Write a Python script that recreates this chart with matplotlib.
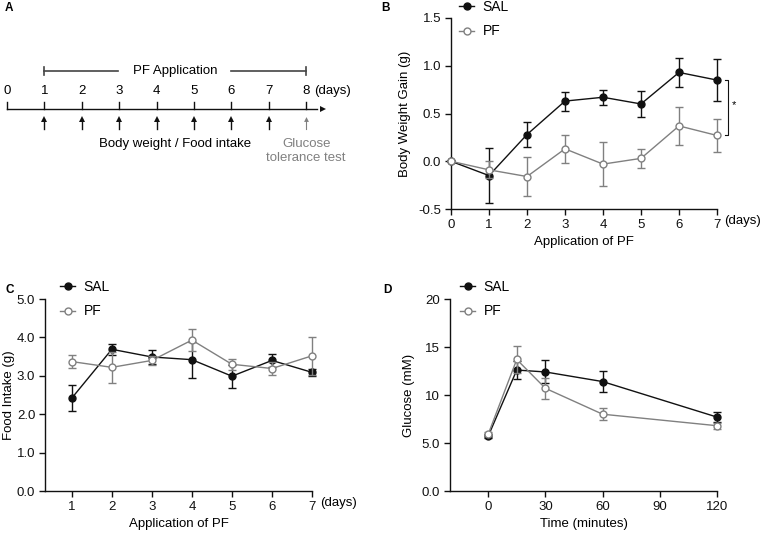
import matplotlib
matplotlib.use('Agg')
import matplotlib.pyplot as plt
from matplotlib.lines import Line2D

plt.rcParams['font.family'] = ['Liberation Sans', 'DejaVu Sans']
plt.rcParams['font.size'] = 9

BLACK = '#111111'
GRAY = '#808080'

# panel A timeline
timeline_days = [0, 1, 2, 3, 4, 5, 6, 7, 8]
arrow_days = [1, 2, 3, 4, 5, 6, 7]
glucose_day = 8

# panel B body weight gain
bw_days = [0, 1, 2, 3, 4, 5, 6, 7]
bw_sal = [0.0, -0.15, 0.28, 0.63, 0.67, 0.60, 0.93, 0.85]
bw_sal_err = [0.0, 0.29, 0.13, 0.10, 0.08, 0.14, 0.15, 0.22]
bw_pf = [0.0, -0.09, -0.16, 0.13, -0.03, 0.03, 0.37, 0.27]
bw_pf_err = [0.0, 0.09, 0.20, 0.15, 0.23, 0.10, 0.20, 0.17]

# panel C food intake
fi_days = [1, 2, 3, 4, 5, 6, 7]
fi_sal = [2.42, 3.69, 3.49, 3.42, 2.99, 3.40, 3.09]
fi_sal_err = [0.34, 0.14, 0.18, 0.47, 0.30, 0.18, 0.10]
fi_pf = [3.37, 3.22, 3.40, 3.93, 3.30, 3.19, 3.52]
fi_pf_err = [0.17, 0.40, 0.12, 0.28, 0.14, 0.17, 0.50]

# panel D glucose tolerance
gt_time = [0, 15, 30, 60, 120]
gt_sal = [5.7, 12.6, 12.4, 11.4, 7.7]
gt_sal_err = [0.2, 0.9, 1.2, 1.1, 0.5]
gt_pf = [5.9, 13.7, 10.7, 8.0, 6.8]
gt_pf_err = [0.2, 1.4, 1.1, 0.6, 0.3]

W, H = 760, 533
fig = plt.figure(figsize=(W / 100, H / 100), dpi=100)


def px_axes(left, top, right, bottom):
    return fig.add_axes([left / W, 1 - bottom / H, (right - left) / W, (bottom - top) / H])


def style(ax):
    for s in ['top', 'right']:
        ax.spines[s].set_visible(False)
    for s in ['left', 'bottom']:
        ax.spines[s].set_linewidth(1.0)
        ax.spines[s].set_color(BLACK)
    ax.tick_params(direction='out', length=4, width=1, colors=BLACK, labelsize=9.5, pad=3)


def draw_series(ax, x, sal, sal_err, pf, pf_err):
    ax.errorbar(x, sal, yerr=sal_err, color=BLACK, marker='o', ms=5, mfc=BLACK,
                mec=BLACK, lw=1, capsize=3, elinewidth=1, capthick=1, zorder=3)
    ax.errorbar(x, pf, yerr=pf_err, color=GRAY, marker='o', ms=5, mfc='white',
                mec=GRAY, lw=1, capsize=3, elinewidth=1, capthick=1, zorder=4)
    for c in ax.get_children():
        try:
            c.set_clip_on(False)
        except Exception:
            pass


def legend(ax, x, y):
    handles = [Line2D([], [], color=BLACK, marker='o', ms=5, mfc=BLACK, lw=1),
               Line2D([], [], color=GRAY, marker='o', ms=5, mfc='white', mec=GRAY, lw=1)]
    ax.legend(handles, ['SAL', 'PF'], loc='upper left', bbox_to_anchor=(x / W, 1 - y / H),
              bbox_transform=fig.transFigure, frameon=False, handlelength=1.1,
              handletextpad=0.6, labelspacing=0.75, fontsize=10, borderpad=0, borderaxespad=0)


# ---- A ----
axA = px_axes(0, 0, 380, 200)
axA.set_xlim(-7 / 37.4, 373 / 37.4)
axA.set_ylim(200, 0)
axA.axis('off')
axA.plot([0, 8.3], [109, 109], color=BLACK, lw=1)
axA.plot(8.45, 109, marker='>', ms=4, color=BLACK, mew=0)
for d in timeline_days:
    axA.plot([d, d], [102, 109], color=BLACK, lw=1)
    axA.text(d, 91, str(d), ha='center', va='center', fontsize=9.5)
axA.text(8.2, 91, '(days)', ha='left', va='center', fontsize=9.5)
axA.plot([1, 2.97], [71, 71], color='#444444', lw=1.2)
axA.plot([6.0, 8], [71, 71], color='#444444', lw=1.2)
axA.plot([1, 1], [67, 75], color='#444444', lw=1.2)
axA.plot([8, 8], [67, 75], color='#444444', lw=1.2)
axA.text(4.5, 71, 'PF Application', ha='center', va='center', fontsize=9.5)
for d in arrow_days:
    axA.plot([d, d], [119, 129], color=BLACK, lw=1)
    axA.plot(d, 119, marker='^', ms=4, color=BLACK, mew=0)
axA.plot([glucose_day, glucose_day], [119, 129], color=GRAY, lw=0.8)
axA.plot(glucose_day, 119, marker='^', ms=3.5, color=GRAY, mew=0)
axA.text(4.5, 144, 'Body weight / Food intake', ha='center', va='center', fontsize=9.5)
axA.text(glucose_day, 151, 'Glucose\ntolerance test', ha='center', va='center',
         fontsize=9.5, color=GRAY, linespacing=1.15)

# ---- B ----
axB = px_axes(451, 18, 717, 209)
style(axB)
draw_series(axB, bw_days, bw_sal, bw_sal_err, bw_pf, bw_pf_err)
axB.set_xlim(0, 7)
axB.set_ylim(-0.5, 1.5)
axB.set_xticks(bw_days)
axB.set_yticks([-0.5, 0.0, 0.5, 1.0, 1.5])
axB.set_yticklabels(['-0.5', '0.0', '0.5', '1.0', '1.5'])
axB.set_ylabel('Body Weight Gain (g)', fontsize=9.5, labelpad=5)
axB.set_xlabel('Application of PF', fontsize=9.5, labelpad=4)
axB.text(7.2, -0.56, '(days)', ha='left', va='top', fontsize=9.5)
# significance bracket
axB.plot([7.2, 7.3, 7.3, 7.2], [bw_sal[-1], bw_sal[-1], bw_pf[-1], bw_pf[-1]],
         color=BLACK, lw=0.8, clip_on=False)
axB.text(7.4, (bw_sal[-1] + bw_pf[-1]) / 2 + 0.03, '*', ha='left', va='center', fontsize=8)
legend(axB, 459, 0)

# ---- C ----
axC = px_axes(45, 299, 312, 491)
style(axC)
draw_series(axC, fi_days, fi_sal, fi_sal_err, fi_pf, fi_pf_err)
axC.set_xlim(0.33, 7)
axC.set_ylim(0, 5)
axC.set_xticks(fi_days)
axC.set_yticks([0, 1, 2, 3, 4, 5])
axC.set_yticklabels(['0.0', '1.0', '2.0', '3.0', '4.0', '5.0'])
axC.set_ylabel('Food Intake (g)', fontsize=9.5)
axC.yaxis.set_label_coords(-30 / 267, 0.5)
axC.set_xlabel('Application of PF', fontsize=9.5, labelpad=4)
axC.text(7.2, -0.15, '(days)', ha='left', va='top', fontsize=9.5)
legend(axC, 60, 280)

# ---- D ----
axD = px_axes(450, 299, 717, 491)
style(axD)
draw_series(axD, gt_time, gt_sal, gt_sal_err, gt_pf, gt_pf_err)
axD.set_xlim(-20, 120)
axD.set_ylim(0, 20)
axD.set_xticks([0, 30, 60, 90, 120])
axD.set_yticks([0, 5, 10, 15, 20])
axD.set_yticklabels(['0.0', '5.0', '10', '15', '20'])
axD.set_ylabel('Glucose (mM)', fontsize=9.5, labelpad=5)
axD.set_xlabel('Time (minutes)', fontsize=9.5, labelpad=4)
legend(axD, 460, 280)

# panel letters
for lab, x, y in [('A', 5, 8), ('B', 381, 8), ('C', 5, 290), ('D', 383, 290)]:
    fig.text(x / W, 1 - y / H, lab, fontsize=8.5, fontweight='bold', ha='left', va='center')

fig.savefig('out.png', dpi=100)
